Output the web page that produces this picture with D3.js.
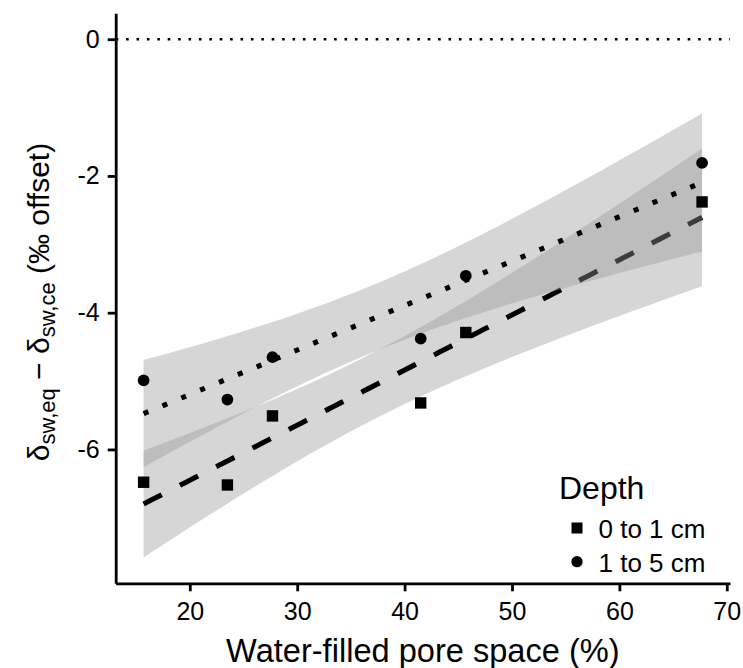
<!DOCTYPE html>
<html>
<head>
<meta charset="utf-8">
<script src="https://cdn.jsdelivr.net/npm/d3@7"></script>
<style>
    body { margin: 0; background: #fff; }
    text { font-family: "Liberation Sans", Arial, Helvetica, sans-serif; fill: #000; }
</style>
</head>
<body>
<div id="chart"></div>
<script>
// Values
const wfps = [15.7, 23.5, 27.7, 41.5, 45.7, 67.7];
const depths = ["0 to 1 cm", "1 to 5 cm"];
const offset0to1 = [-6.48, -6.52, -5.51, -5.32, -4.29, -2.38];
const offset1to5 = [-4.99, -5.27, -4.65, -4.38, -3.46, -1.81];
const xTicks = [20, 30, 40, 50, 60, 70];
const yTicks = [0, -2, -4, -6];

const width = 743, height = 668;
const margin = { top: 13.3, right: 13, bottom: 84.7, left: 115.7 };
const lwd = 5.1;

const svg = d3.select("#chart").append("svg")
    .attr("width", width)
    .attr("height", height);

// lm fit with 95% confidence band, like geom_smooth(method = "lm")
function lmFit(xs, ys) {
    const n = xs.length;
    const mx = d3.mean(xs), my = d3.mean(ys);
    const sxx = d3.sum(xs, x => (x - mx) ** 2);
    const sxy = d3.sum(xs, (x, i) => (x - mx) * (ys[i] - my));
    const b = sxy / sxx, a = my - b * mx;
    const ssr = d3.sum(xs, (x, i) => (ys[i] - (a + b * x)) ** 2);
    const s = Math.sqrt(ssr / (n - 2));
    const tCrit = 2.776445; // qt(0.975, 4)
    const [x0, x1] = d3.extent(xs);
    return d3.range(80).map(i => {
        const x = x0 + (x1 - x0) * i / 79;
        const fit = a + b * x;
        const se = s * Math.sqrt(1 / n + (x - mx) ** 2 / sxx);
        return { x, fit, lo: fit - tCrit * se, hi: fit + tCrit * se };
    });
}

const groups = [
    { name: depths[0], ys: offset0to1, dash: `${4 * lwd},${4 * lwd}`, shape: d3.symbolSquare },
    { name: depths[1], ys: offset1to5, dash: `${lwd},${3 * lwd}`, shape: d3.symbolCircle }
];
groups.forEach(g => g.band = lmFit(wfps, g.ys));

const xExt = d3.extent(wfps);
const xPad = (xExt[1] - xExt[0]) * 0.05;
const x = d3.scaleLinear()
    .domain([xExt[0] - xPad, xExt[1] + xPad])
    .range([margin.left, width - margin.right]);

const yLo = d3.min(groups, g => d3.min(g.band, d => d.lo));
const yHi = 0;
const yPad = (yHi - yLo) * 0.05;
const y = d3.scaleLinear()
    .domain([yLo - yPad, yHi + yPad])
    .range([height - margin.bottom, margin.top]);

// zero reference line
svg.append("line")
    .attr("x1", margin.left).attr("x2", width - margin.right)
    .attr("y1", y(0)).attr("y2", y(0))
    .attr("stroke", "#000")
    .attr("stroke-width", 2.6)
    .attr("stroke-dasharray", "2.6,7.8");

const area = d3.area().x(d => x(d.x)).y0(d => y(d.lo)).y1(d => y(d.hi));
const line = d3.line().x(d => x(d.x)).y(d => y(d.fit));

groups.forEach(g => {
    svg.append("path")
        .attr("d", area(g.band))
        .attr("fill", "#999999")
        .attr("fill-opacity", 0.4);
    svg.append("path")
        .attr("d", line(g.band))
        .attr("fill", "none")
        .attr("stroke", "#000")
        .attr("stroke-width", lwd)
        .attr("stroke-linecap", "butt")
        .attr("stroke-dasharray", g.dash);
});

groups.forEach(g => {
    svg.append("g").selectAll("path")
        .data(wfps)
        .enter()
        .append("path")
        .attr("transform", (d, i) => `translate(${x(d)},${y(g.ys[i])})`)
        .attr("d", d3.symbol().type(g.shape).size(g.shape === d3.symbolSquare ? 130 : 108))
        .attr("fill", "#000");
});

// axes
const xAxis = svg.append("g")
    .attr("transform", `translate(0,${height - margin.bottom})`)
    .call(d3.axisBottom(x).tickValues(xTicks).tickSize(8).tickPadding(11).tickSizeOuter(0));
const yAxis = svg.append("g")
    .attr("transform", `translate(${margin.left},0)`)
    .call(d3.axisLeft(y).tickValues(yTicks).tickFormat(d => String(d))
        .tickSize(8).tickPadding(8).tickSizeOuter(0));

[xAxis, yAxis].forEach(ax => {
    ax.select(".domain").attr("stroke", "#000").attr("stroke-width", 2.8);
    ax.selectAll(".tick line").attr("stroke", "#000").attr("stroke-width", 2.8);
    ax.selectAll(".tick text")
        .attr("fill", "#000")
        .style("font-size", "25px")
        .style("font-family", '"Liberation Sans", Arial, sans-serif');
});
xAxis.selectAll(".tick text").attr("dy", "0.72em");

// axis titles
svg.append("text")
    .attr("x", (margin.left + width - margin.right) / 2)
    .attr("y", 662)
    .attr("text-anchor", "middle")
    .style("font-size", "32.6px")
    .text("Water-filled pore space (%)");

const yTitle = svg.append("text")
    .attr("transform", "translate(49,302) rotate(-90)")
    .attr("text-anchor", "middle")
    .style("font-size", "30px");
yTitle.append("tspan").text("δ");
yTitle.append("tspan").attr("dy", 6).style("font-size", "22px").text("sw,eq");
yTitle.append("tspan").attr("dy", -6).text(" − δ");
yTitle.append("tspan").attr("dy", 6).style("font-size", "22px").text("sw,ce");
yTitle.append("tspan").attr("dy", -6).text(" (‰ offset)");

// legend
const legend = svg.append("g");
legend.append("text")
    .attr("x", 559)
    .attr("y", 499)
    .style("font-size", "32px")
    .text("Depth");

groups.forEach((g, i) => {
    const cy = 528 + i * 33.7;
    legend.append("path")
        .attr("transform", `translate(577,${cy})`)
        .attr("d", d3.symbol().type(g.shape).size(g.shape === d3.symbolSquare ? 121 : 100))
        .attr("fill", "#000");
    legend.append("text")
        .attr("x", 598.5)
        .attr("y", cy + 10.3)
        .style("font-size", "26px")
        .text(g.name);
});
</script>
</body>
</html>
